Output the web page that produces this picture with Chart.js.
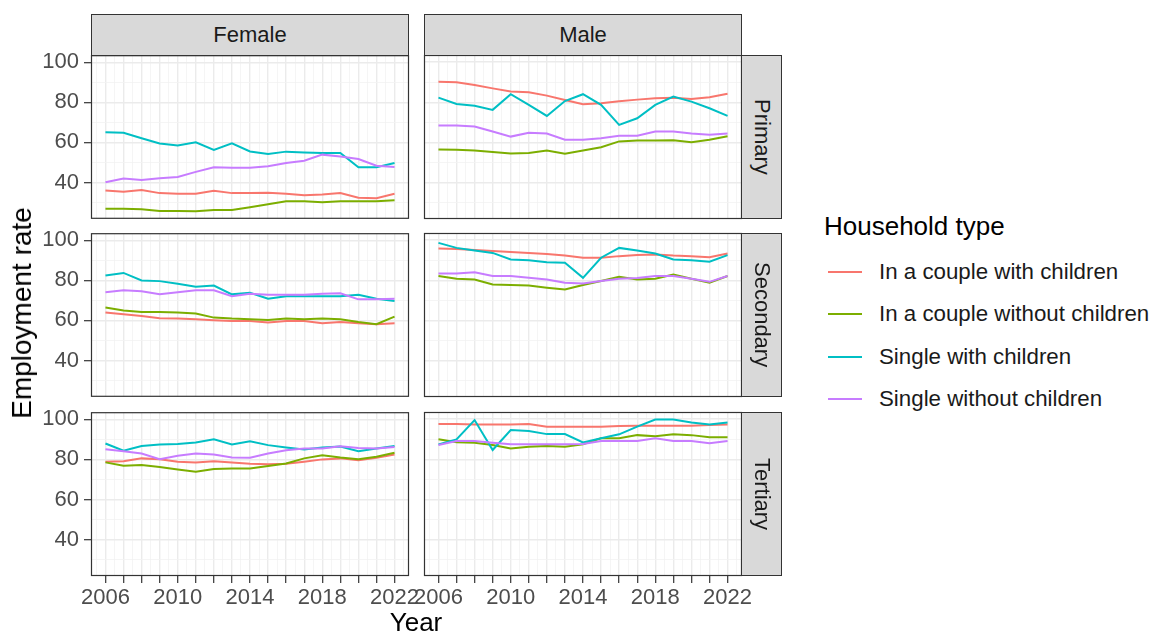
<!DOCTYPE html>
<html>
<head>
<meta charset="utf-8">
<script src="https://cdn.jsdelivr.net/npm/chart.js@4/dist/chart.umd.min.js"></script>
<style>
  html, body { margin: 0; padding: 0; background: #fff; }
  body { width: 1153px; height: 632px; position: relative; overflow: hidden;
         font-family: "Liberation Sans", Arial, sans-serif; }
  canvas { position: absolute; }
  .strip { position: absolute; background: #d9d9d9; border: 1px solid #333; box-sizing: border-box;
           display: flex; align-items: center; justify-content: center; color: #1a1a1a; font-size: 22px; z-index: 2; }
  .vstrip span { writing-mode: vertical-rl; }
  .title { position: absolute; color: #000; font-size: 26px; white-space: nowrap; }
  .legend-item { position: absolute; left: 828px; height: 0; }
  .legend-item .key { position: absolute; left: 0; top: -1px; width: 34px; height: 2px; }
  .legend-item .lab { position: absolute; left: 51px; top: -13px; font-size: 22.3px; color: #1a1a1a; white-space: nowrap; line-height: 26px; }
</style>
</head>
<body>
<script>
// ---- data: employment rate (%) by sex, education level and household type ----
const years = [2006, 2007, 2008, 2009, 2010, 2011, 2012, 2013, 2014, 2015, 2016, 2017, 2018, 2019, 2020, 2021, 2022];
const yearLabels = [2006, 2010, 2014, 2018, 2022];
const yTickLabels = [40, 60, 80, 100];

const householdTypes = ["In a couple with children", "In a couple without children", "Single with children", "Single without children"];
const householdColors = ["#F8766D", "#7CAE00", "#00BFC4", "#C77CFF"];

const sexes = ["Female", "Male"];
const educationLevels = ["Primary", "Secondary", "Tertiary"];

// Female, primary
const femPrimCoupleKids    = [36.0, 35.4, 36.2, 34.7, 34.4, 34.4, 35.9, 34.7, 34.7, 34.9, 34.4, 33.7, 34.0, 34.7, 32.4, 32.2, 34.4];
const femPrimCoupleNoKids  = [26.9, 26.9, 26.6, 25.8, 25.8, 25.6, 26.3, 26.3, 27.7, 29.1, 30.7, 30.7, 30.2, 30.7, 30.7, 30.7, 31.2];
const femPrimSingleKids    = [65.1, 64.8, 62.1, 59.5, 58.5, 60.1, 56.3, 59.5, 55.5, 54.2, 55.4, 55.0, 54.7, 54.7, 47.6, 47.6, 49.7];
const femPrimSingleNoKids  = [40.1, 42.0, 41.3, 42.1, 42.8, 45.3, 47.6, 47.3, 47.3, 48.1, 49.7, 50.9, 53.9, 53.0, 51.7, 48.4, 47.7];

// Male, primary
const malPrimCoupleKids    = [90.2, 89.9, 88.6, 86.9, 85.3, 85.0, 83.3, 81.1, 79.0, 79.5, 80.5, 81.3, 82.0, 82.2, 81.6, 82.5, 84.2];
const malPrimCoupleNoKids  = [56.5, 56.3, 56.0, 55.2, 54.5, 54.7, 56.0, 54.4, 56.0, 57.6, 60.5, 61.0, 61.0, 61.1, 60.1, 61.3, 63.1];
const malPrimSingleKids    = [82.3, 79.1, 78.3, 76.2, 84.0, 78.7, 73.2, 80.6, 84.0, 78.7, 68.7, 72.0, 78.7, 82.8, 80.3, 77.0, 73.2];
const malPrimSingleNoKids  = [68.4, 68.4, 67.9, 65.4, 62.9, 64.8, 64.4, 61.3, 61.3, 62.1, 63.3, 63.3, 65.4, 65.4, 64.4, 63.8, 64.4];

// Female, secondary
const femSecCoupleKids     = [63.9, 63.1, 62.2, 61.1, 60.9, 60.6, 60.1, 59.7, 59.7, 58.9, 59.7, 59.7, 58.6, 59.2, 58.6, 58.1, 58.6];
const femSecCoupleNoKids   = [66.4, 65.0, 64.2, 64.2, 63.9, 63.4, 61.4, 60.9, 60.6, 60.2, 60.9, 60.6, 60.9, 60.6, 59.2, 58.1, 61.9];
const femSecSingleKids     = [82.4, 83.7, 79.9, 79.6, 78.3, 76.8, 77.4, 73.0, 73.8, 70.8, 72.1, 72.1, 72.1, 72.1, 72.8, 70.8, 69.7];
const femSecSingleNoKids   = [74.1, 75.1, 74.6, 73.0, 74.1, 75.1, 75.0, 72.1, 73.3, 72.8, 72.8, 72.8, 73.3, 73.5, 70.5, 70.5, 70.8];

// Male, secondary
const malSecCoupleKids     = [95.8, 95.6, 95.0, 94.5, 94.1, 93.6, 93.1, 92.3, 91.2, 91.2, 92.0, 92.5, 92.8, 92.3, 92.0, 91.5, 93.3];
const malSecCoupleNoKids   = [82.1, 80.7, 80.4, 77.9, 77.6, 77.4, 76.3, 75.4, 77.6, 79.6, 81.7, 80.4, 80.7, 82.9, 80.7, 78.8, 82.1];
const malSecSingleKids     = [98.6, 96.1, 94.8, 93.6, 90.3, 90.0, 89.0, 88.7, 81.2, 91.2, 96.1, 94.8, 93.3, 90.3, 90.0, 89.2, 92.5];
const malSecSingleNoKids   = [83.4, 83.4, 84.0, 82.1, 82.1, 81.2, 80.4, 78.8, 78.4, 79.6, 80.7, 81.1, 82.1, 82.1, 80.7, 79.2, 82.1];

// Female, tertiary
const femTerCoupleKids     = [78.8, 79.1, 80.5, 80.1, 78.8, 78.5, 79.1, 78.5, 77.8, 77.6, 77.8, 78.8, 80.0, 80.5, 79.6, 80.8, 82.4];
const femTerCoupleNoKids   = [78.5, 76.8, 77.2, 76.2, 75.0, 73.8, 75.2, 75.5, 75.5, 76.7, 78.0, 80.5, 82.1, 80.9, 80.1, 81.3, 83.3];
const femTerSingleKids     = [87.9, 84.3, 86.7, 87.4, 87.7, 88.4, 90.0, 87.4, 89.0, 87.1, 85.9, 84.9, 85.9, 86.4, 84.1, 85.4, 86.7];
const femTerSingleNoKids   = [85.1, 84.1, 82.9, 80.1, 81.8, 82.9, 82.4, 80.9, 80.8, 82.9, 84.6, 85.4, 85.4, 86.6, 85.7, 85.4, 86.2];

// Male, tertiary
const malTerCoupleKids     = [97.5, 97.5, 97.3, 97.3, 97.3, 97.5, 96.2, 96.2, 96.2, 96.2, 96.5, 96.7, 96.7, 96.7, 96.7, 97.0, 97.3];
const malTerCoupleNoKids   = [89.9, 88.4, 88.2, 87.1, 85.4, 86.2, 86.6, 86.2, 87.4, 90.4, 90.4, 92.0, 91.5, 92.4, 92.0, 91.0, 90.9];
const malTerSingleKids     = [87.4, 89.9, 99.5, 84.6, 94.5, 94.0, 92.5, 92.5, 88.4, 90.4, 92.4, 96.2, 99.8, 99.8, 98.3, 97.3, 98.3];
const malTerSingleNoKids   = [87.1, 89.1, 89.1, 88.2, 87.4, 87.4, 87.4, 87.4, 87.6, 89.1, 89.1, 89.1, 90.4, 89.1, 89.1, 87.9, 89.1];

// panel grid: rows = education level, columns = sex
const panelSeries = [
  [[femPrimCoupleKids, femPrimCoupleNoKids, femPrimSingleKids, femPrimSingleNoKids],
   [malPrimCoupleKids, malPrimCoupleNoKids, malPrimSingleKids, malPrimSingleNoKids]],
  [[femSecCoupleKids, femSecCoupleNoKids, femSecSingleKids, femSecSingleNoKids],
   [malSecCoupleKids, malSecCoupleNoKids, malSecSingleKids, malSecSingleNoKids]],
  [[femTerCoupleKids, femTerCoupleNoKids, femTerSingleKids, femTerSingleNoKids],
   [malTerCoupleKids, malTerCoupleNoKids, malTerSingleKids, malTerSingleNoKids]]
];

// ---- shared scales (fixed across facets, 5% expansion) ----
const allValues = panelSeries.flat(3);
const yLo = Math.min(...allValues), yHi = Math.max(...allValues);
const yPad = (yHi - yLo) * 0.05;
const xLo = years[0], xHi = years[years.length - 1];
const xPad = (xHi - xLo) * 0.05;

// major + minor break positions
const xBreaks = [];
for (let v = xLo - 0.5; v <= xHi + 0.5; v += 0.5) xBreaks.push(v);
const yBreaks = [];
for (let v = 30; v <= 100; v += 10) yBreaks.push(v);

// ---- facet geometry ----
const colLeft = [91, 424], panelW = 318;
const rowTop = [55, 233, 412], panelH = 164;
const yAxisW = 60, sideM = 24, vM = 18, xAxisH = 44;

const tickFont = { family: "'Liberation Sans', Arial, sans-serif", size: 22 };
const tickColor = "#4d4d4d";

const panelFrame = {
  id: "panelFrame",
  afterDraw(chart) {
    const a = chart.chartArea, ctx = chart.ctx;
    ctx.save();
    ctx.strokeStyle = "#333333";
    ctx.lineWidth = 1.2;
    ctx.strokeRect(a.left + 0.5, a.top + 0.5, a.right - a.left - 1, a.bottom - a.top - 1);
    ctx.restore();
  }
};

function makePanel(r, c) {
  const bottomRow = r === educationLevels.length - 1;
  const leftCol = c === 0;
  const left = colLeft[c] - (leftCol ? yAxisW : sideM);
  const top = rowTop[r] - vM;
  const width = (leftCol ? yAxisW : sideM) + panelW + sideM;
  const height = vM + panelH + (bottomRow ? xAxisH : vM);

  const cv = document.createElement("canvas");
  cv.width = width; cv.height = height;
  cv.style.left = left + "px"; cv.style.top = top + "px";
  cv.style.width = width + "px"; cv.style.height = height + "px";
  document.body.appendChild(cv);

  const datasets = panelSeries[r][c].map((vals, i) => ({
    label: householdTypes[i],
    data: years.map((yr, k) => ({ x: yr, y: vals[k] })),
    borderColor: householdColors[i],
    borderWidth: 2,
    pointRadius: 0,
    fill: false,
    tension: 0,
    order: householdTypes.length - 1 - i
  }));

  new Chart(cv, {
    type: "line",
    data: { datasets },
    options: {
      responsive: false,
      animation: false,
      events: [],
      layout: { padding: { left: leftCol ? 0 : sideM, right: sideM, top: vM, bottom: bottomRow ? 0 : vM } },
      plugins: { legend: { display: false }, tooltip: { enabled: false } },
      scales: {
        x: {
          type: "linear",
          min: xLo - xPad, max: xHi + xPad,
          afterBuildTicks: s => { s.ticks = xBreaks.map(v => ({ value: v })); },
          afterFit: s => { s.height = bottomRow ? xAxisH : 0; },
          border: { display: false },
          grid: {
            color: ctx => Number.isInteger(ctx.tick.value) ? "#ebebeb" : "#f2f2f2",
            lineWidth: ctx => Number.isInteger(ctx.tick.value) ? 1.4 : 0.8,
            drawTicks: bottomRow,
            tickLength: 7,
            tickWidth: 1.2,
            tickColor: ctx => Number.isInteger(ctx.tick.value) ? "#333333" : "rgba(0,0,0,0)"
          },
          ticks: {
            display: bottomRow,
            autoSkip: false,
            maxRotation: 0,
            minRotation: 0,
            padding: 2,
            font: tickFont,
            color: tickColor,
            callback: v => yearLabels.includes(v) ? String(v) : ""
          }
        },
        y: {
          type: "linear",
          min: yLo - yPad, max: yHi + yPad,
          afterBuildTicks: s => { s.ticks = yBreaks.map(v => ({ value: v })); },
          afterFit: s => { s.width = leftCol ? yAxisW : 0; },
          border: { display: false },
          grid: {
            color: ctx => ctx.tick.value % 20 === 0 ? "#ebebeb" : "#f2f2f2",
            lineWidth: ctx => ctx.tick.value % 20 === 0 ? 1.4 : 0.8,
            drawTicks: leftCol,
            tickLength: 7,
            tickWidth: 1.2,
            tickColor: ctx => ctx.tick.value % 20 === 0 ? "#333333" : "rgba(0,0,0,0)"
          },
          ticks: {
            display: leftCol,
            autoSkip: false,
            padding: 5,
            font: tickFont,
            color: tickColor,
            callback: v => yTickLabels.includes(v) ? String(v) : ""
          }
        }
      }
    },
    plugins: [panelFrame]
  });
}

for (let r = 0; r < educationLevels.length; r++)
  for (let c = 0; c < sexes.length; c++) makePanel(r, c);

// ---- facet strips ----
function addDiv(cls, css, html) {
  const d = document.createElement("div");
  d.className = cls;
  Object.assign(d.style, css);
  d.innerHTML = html;
  document.body.appendChild(d);
  return d;
}
sexes.forEach((s, c) => addDiv("strip", { left: colLeft[c] + "px", top: "14px", width: panelW + "px", height: "42px" }, "<span>" + s + "</span>"));
educationLevels.forEach((e, r) => addDiv("strip vstrip", { left: "741px", top: rowTop[r] + "px", width: "41px", height: panelH + "px" }, "<span>" + e + "</span>"));

// ---- axis titles ----
addDiv("title", { left: "416px", top: "622px", transform: "translate(-50%,-50%)" }, "Year");
addDiv("title", { left: "22px", top: "313px", fontSize: "28px", transform: "translate(-50%,-50%) rotate(-90deg)" }, "Employment rate");

// ---- legend ----
addDiv("title", { left: "824px", top: "226px", transform: "translateY(-50%)" }, "Household type");
const legendY = [271.5, 314, 356.5, 399];
householdTypes.forEach((t, i) => {
  addDiv("legend-item", { top: legendY[i] + "px" },
    '<div class="key" style="background:' + householdColors[i] + '"></div><div class="lab">' + t + "</div>");
});
</script>
</body>
</html>
